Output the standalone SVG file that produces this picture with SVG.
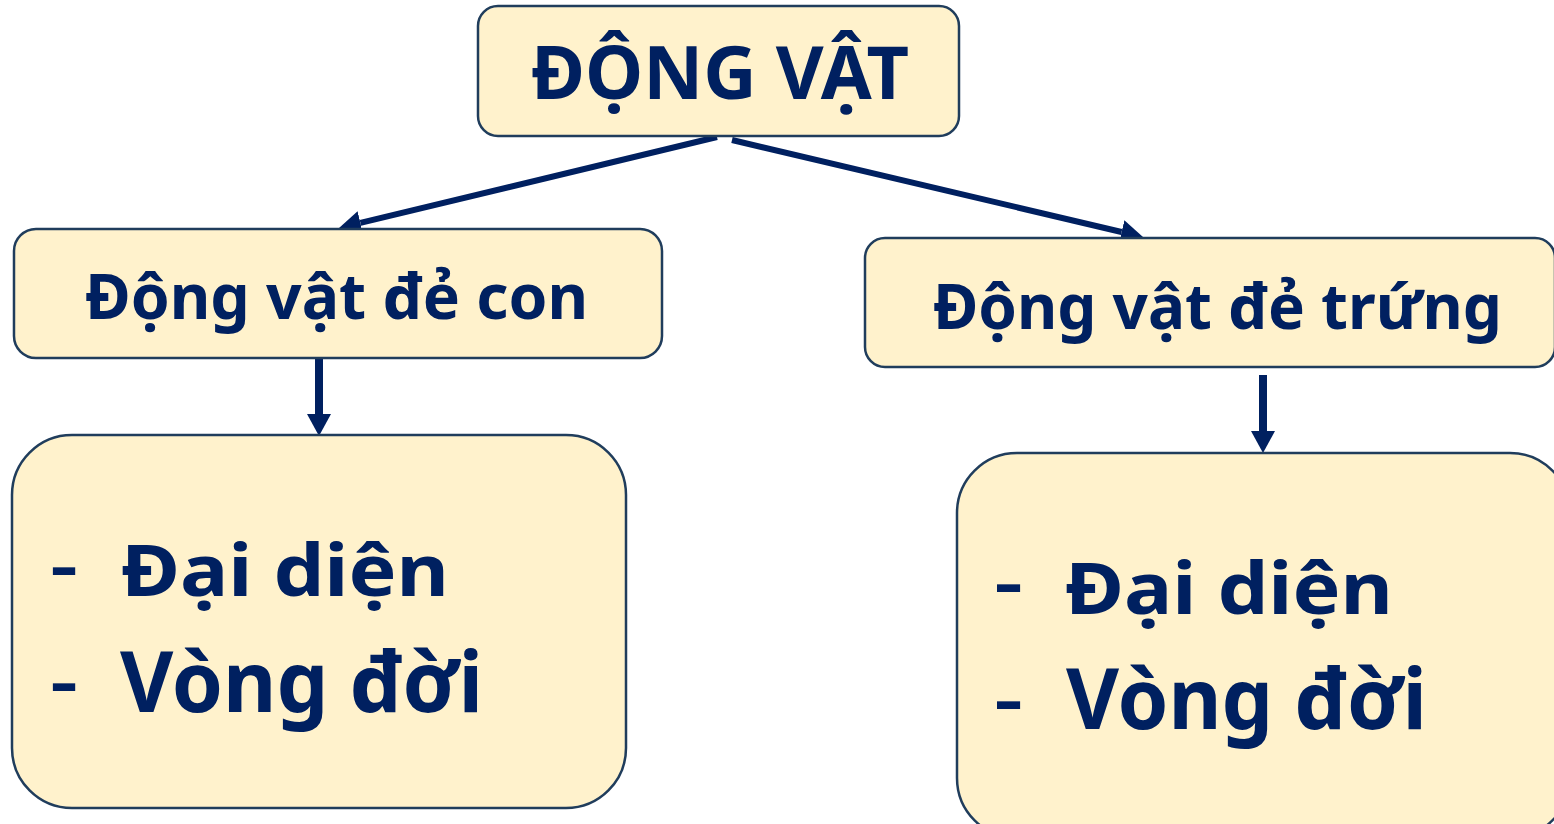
<svg xmlns="http://www.w3.org/2000/svg" width="1554" height="824" viewBox="0 0 1554 824">
<defs>
<style>
.box{fill:#FFF2CC;stroke:#203D5C;stroke-width:2.5}
.t{font-family:"Noto Sans","Open Sans","Liberation Sans",sans-serif;font-weight:bold;fill:#002060}
.d{font-family:"Noto Sans","Open Sans","Liberation Sans",sans-serif;font-weight:600;fill:#002060;font-size:72px}
.c{stroke:#002060;fill:none}
</style>
<marker id="ah" markerUnits="userSpaceOnUse" markerWidth="22" markerHeight="24" refX="0" refY="12" orient="auto">
<path d="M0,0 L22,12 L0,24 z" fill="#002060"/>
</marker>
</defs>
<rect width="1554" height="824" fill="#FFFFFF"/>
<g id="connectors">
<line class="c" x1="717" y1="137" x2="360.4" y2="222.9" stroke-width="6" marker-end="url(#ah)"/>
<line class="c" x1="732" y1="140" x2="1121.6" y2="232" stroke-width="6" marker-end="url(#ah)"/>
<line class="c" x1="319" y1="357" x2="319" y2="414" stroke-width="8" marker-end="url(#ah)"/>
<line class="c" x1="1263" y1="375" x2="1263" y2="431" stroke-width="8" marker-end="url(#ah)"/>
</g>
<g id="node-dongvat">
<rect class="box" x="478" y="6" width="481" height="130" rx="20"/>
<text class="t" x="531" y="99" font-size="73" textLength="378" lengthAdjust="spacingAndGlyphs">ĐỘNG VẬT</text>
</g>
<g id="node-decon">
<rect class="box" x="14" y="229" width="648" height="129" rx="22"/>
<text class="t" x="85" y="319" font-size="63" textLength="503" lengthAdjust="spacingAndGlyphs">Động vật đẻ con</text>
</g>
<g id="node-detrung">
<rect class="box" x="865" y="238" width="690" height="129" rx="20"/>
<text class="t" x="933" y="329" font-size="63" textLength="569" lengthAdjust="spacingAndGlyphs">Động vật đẻ trứng</text>
</g>
<g id="node-decon-info">
<rect class="box" x="12" y="435" width="614" height="373" rx="60"/>
<text class="d" x="50" y="591" textLength="28" lengthAdjust="spacingAndGlyphs">-</text>
<text class="t" x="121" y="596" font-size="72" textLength="328" lengthAdjust="spacingAndGlyphs">Đại diện</text>
<text class="d" x="50" y="707" textLength="28" lengthAdjust="spacingAndGlyphs">-</text>
<text class="t" x="120" y="712" font-size="84" textLength="363" lengthAdjust="spacingAndGlyphs">Vòng đời</text>
</g>
<g id="node-detrung-info">
<rect class="box" x="957" y="453" width="613" height="385" rx="60"/>
<text class="d" x="994" y="608" textLength="29" lengthAdjust="spacingAndGlyphs">-</text>
<text class="t" x="1065" y="614" font-size="72" textLength="328" lengthAdjust="spacingAndGlyphs">Đại diện</text>
<text class="d" x="994" y="725" textLength="29" lengthAdjust="spacingAndGlyphs">-</text>
<text class="t" x="1066" y="729" font-size="84" textLength="361" lengthAdjust="spacingAndGlyphs">Vòng đời</text>
</g>
</svg>
